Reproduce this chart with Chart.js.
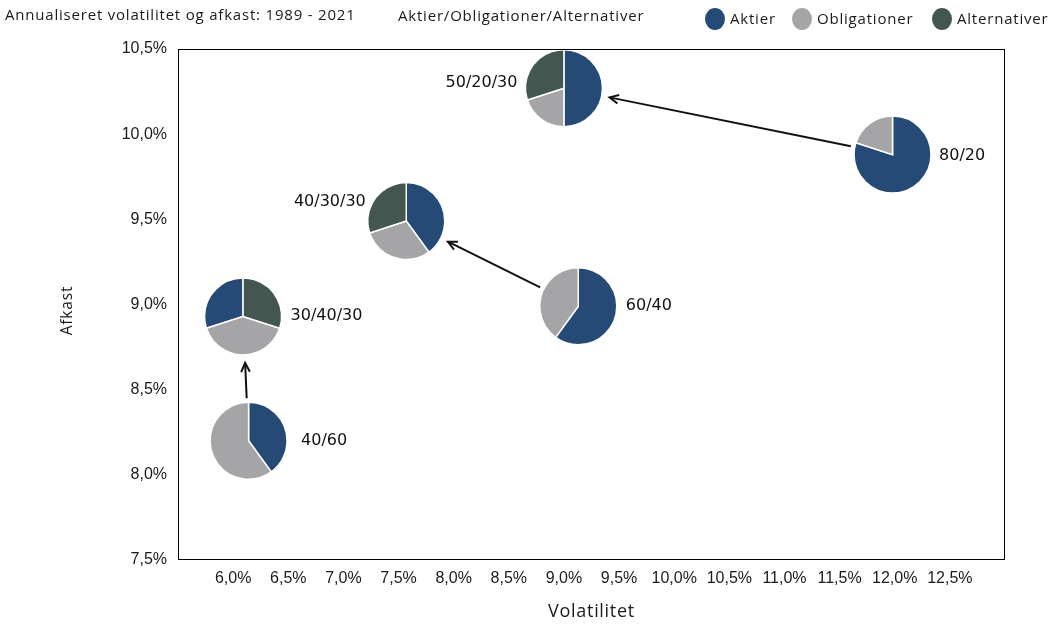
<!DOCTYPE html>
<html>
<head>
<meta charset="utf-8">
<script src="https://cdn.jsdelivr.net/npm/chart.js@4/dist/chart.umd.min.js"></script>
<style>
  html, body { margin: 0; padding: 0; background: #fff; }
  #wrap { width: 1055px; height: 627px; }
</style>
</head>
<body>
<div id="wrap"><canvas id="chart" width="1055" height="627"></canvas></div>
<script>
// portfolio mixes (Aktier/Obligationer/Alternativer)
const labels = ["80/20", "50/20/30", "40/30/30", "60/40", "30/40/30", "40/60"];
const volatility = [11.98, 9.0, 7.57, 9.13, 6.09, 6.14]; // x, %
const returns = [9.88, 10.27, 9.49, 8.99, 8.93, 8.2]; // y, %
const aktier = [80, 50, 40, 60, 30, 40];
const obligationer = [20, 20, 30, 40, 40, 60];
const alternativer = [0, 30, 30, 0, 30, 0];
// arrows: from index -> to index
const arrows = [[0, 1], [3, 2], [5, 4]];
const seriesNames = ["Aktier", "Obligationer", "Alternativer"];

const colors = ["#264a76", "#a5a5a8", "#435650"];
const pieRadius = 38.5;
// label placement per pie (dx from pie edge, dy), and draw direction
const labelPlace = [
  { side: "right", dx: 8, dy: 1 },
  { side: "left", dx: 8, dy: -5 },
  { side: "left", dx: 2, dy: -19 },
  { side: "right", dx: 9, dy: 0 },
  { side: "right", dx: 9, dy: -1 },
  { side: "right", dx: 14, dy: 0 },
];
const ccw = [false, false, false, false, true, false];

function pct(v) {
  return v.toFixed(1).replace(".", ",") + "%";
}

const piePlugin = {
  id: "pies",
  afterDatasetsDraw(chart) {
    const ctx = chart.ctx;
    const xs = chart.scales.x;
    const ys = chart.scales.y;
    const centres = labels.map((l, i) => ({
      x: xs.getPixelForValue(volatility[i]),
      y: ys.getPixelForValue(returns[i]),
    }));

    // arrows
    ctx.save();
    ctx.strokeStyle = "#111";
    ctx.lineWidth = 2;
    arrows.forEach(([from, to]) => {
      const a = centres[from];
      const b = centres[to];
      const ang = Math.atan2(b.y - a.y, b.x - a.x);
      const sx = a.x + Math.cos(ang) * (pieRadius + 4);
      const sy = a.y + Math.sin(ang) * (pieRadius + 4);
      const ex = b.x - Math.cos(ang) * (pieRadius + 8);
      const ey = b.y - Math.sin(ang) * (pieRadius + 8);
      ctx.beginPath();
      ctx.moveTo(sx, sy);
      ctx.lineTo(ex, ey);
      ctx.stroke();
      const h = 10;
      ctx.beginPath();
      ctx.moveTo(ex - Math.cos(ang - 0.45) * h, ey - Math.sin(ang - 0.45) * h);
      ctx.lineTo(ex, ey);
      ctx.lineTo(ex - Math.cos(ang + 0.45) * h, ey - Math.sin(ang + 0.45) * h);
      ctx.stroke();
    });
    ctx.restore();

    // pies
    centres.forEach((c, i) => {
      const vals = [aktier[i], obligationer[i], alternativer[i]];
      const total = vals.reduce((s, v) => s + v, 0);
      let angle = -Math.PI / 2;
      const dir = ccw[i] ? -1 : 1;
      ctx.save();
      vals.forEach((v, k) => {
        if (!v) return;
        const sweep = (v / total) * Math.PI * 2 * dir;
        ctx.beginPath();
        ctx.moveTo(c.x, c.y);
        ctx.arc(c.x, c.y, pieRadius, angle, angle + sweep, ccw[i]);
        ctx.closePath();
        ctx.fillStyle = colors[k];
        ctx.fill();
        ctx.strokeStyle = "#ffffff";
        ctx.lineWidth = 1.5;
        ctx.stroke();
        angle += sweep;
      });
      ctx.restore();

      // label
      const p = labelPlace[i];
      ctx.save();
      ctx.font = "16px 'DejaVu Sans'";
      ctx.fillStyle = "#111";
      ctx.textBaseline = "middle";
      if (p.side === "right") {
        ctx.textAlign = "left";
        ctx.fillText(labels[i], c.x + pieRadius + p.dx, c.y + p.dy);
      } else {
        ctx.textAlign = "right";
        ctx.fillText(labels[i], c.x - pieRadius - p.dx, c.y + p.dy);
      }
      ctx.restore();
    });
  },
  afterDraw(chart) {
    const ctx = chart.ctx;
    const a = chart.chartArea;
    ctx.save();
    // plot frame
    ctx.strokeStyle = "#000";
    ctx.lineWidth = 1;
    ctx.strokeRect(a.left + 0.5, a.top + 0.5, a.right - a.left - 1, a.bottom - a.top - 1);

    // titles
    ctx.fillStyle = "#1a1a1a";
    ctx.textBaseline = "middle";
    ctx.font = "15px 'Open Sans'";
    ctx.letterSpacing = "0.8px";
    ctx.textAlign = "left";
    ctx.fillText("Annualiseret volatilitet og afkast: 1989 - 2021", 5, 16);
    ctx.fillText("Aktier/Obligationer/Alternativer", 398, 17);

    // legend
    const legX = [715, 802, 942];
    seriesNames.forEach((name, k) => {
      ctx.beginPath();
      ctx.ellipse(legX[k], 19, 10, 11, 0, 0, Math.PI * 2);
      ctx.fillStyle = colors[k];
      ctx.fill();
      ctx.fillStyle = "#1a1a1a";
      ctx.fillText(name, legX[k] + 15, 20);
    });

    // axis titles
    ctx.font = "18px 'Open Sans'";
    ctx.letterSpacing = "0.7px";
    ctx.textAlign = "center";
    ctx.fillText("Volatilitet", (a.left + a.right) / 2, 612);
    ctx.save();
    ctx.translate(68, (a.top + a.bottom) / 2 + 6);
    ctx.rotate(-Math.PI / 2);
    ctx.font = "15.5px 'Open Sans'";
    ctx.letterSpacing = "0.8px";
    ctx.fillText("Afkast", 0, 0);
    ctx.restore();
    ctx.restore();
  },
};

new Chart(document.getElementById("chart").getContext("2d"), {
  type: "scatter",
  data: {
    datasets: [
      {
        label: "Porteføljer",
        data: labels.map((l, i) => ({ x: volatility[i], y: returns[i] })),
        pointRadius: 0,
        pointHoverRadius: 0,
      },
    ],
  },
  options: {
    responsive: false,
    animation: false,
    events: [],
    layout: { padding: { top: 49, right: 50, left: 0, bottom: 0 } },
    plugins: {
      legend: { display: false },
      tooltip: { enabled: false },
    },
    scales: {
      x: {
        type: "linear",
        min: 5.5,
        max: 13,
        grid: { display: false, drawTicks: false },
        border: { display: false },
        afterFit(scale) {
          scale.height = 67;
        },
        ticks: {
          stepSize: 0.5,
          padding: 9,
          maxRotation: 0,
          autoSkip: false,
          color: "#1a1a1a",
          font: { family: "'Liberation Sans'", size: 16 },
          callback: (v) => (v <= 5.5 || v >= 13 ? "" : pct(v)),
        },
      },
      y: {
        type: "linear",
        min: 7.5,
        max: 10.5,
        grid: { display: false, drawTicks: false },
        border: { display: false },
        afterFit(scale) {
          scale.width = 178;
        },
        ticks: {
          stepSize: 0.5,
          padding: 11,
          autoSkip: false,
          color: "#1a1a1a",
          font: { family: "'Liberation Sans'", size: 16 },
          callback: (v) => pct(v),
        },
      },
    },
  },
  plugins: [piePlugin],
});
</script>
</body>
</html>
